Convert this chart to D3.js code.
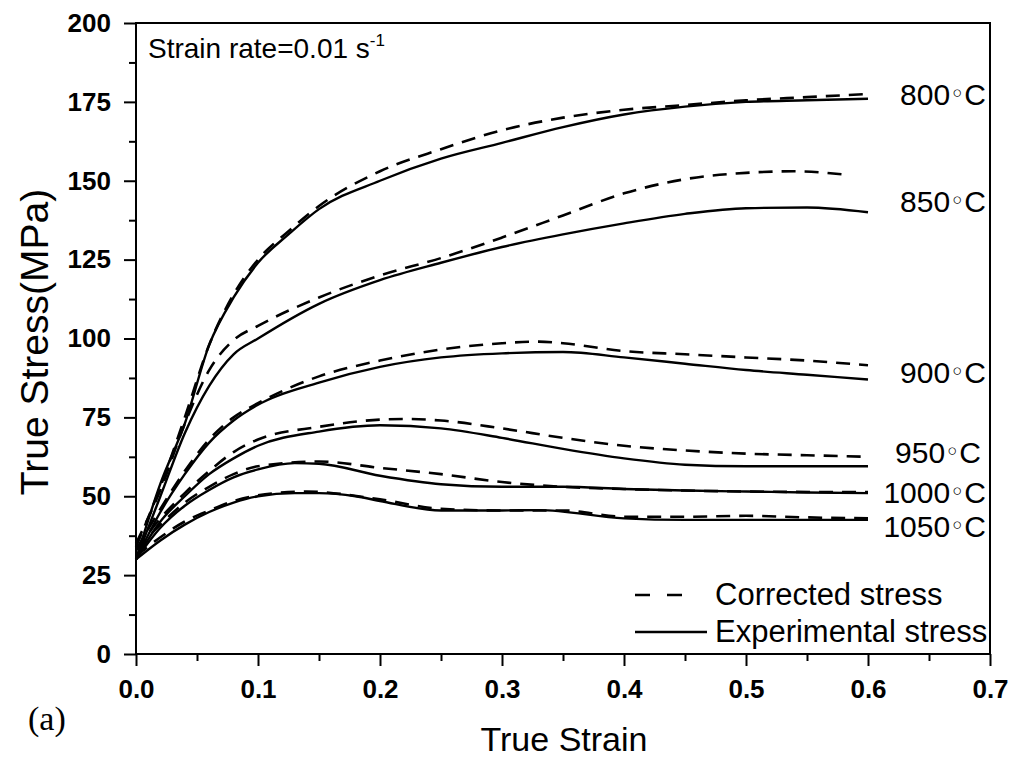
<!DOCTYPE html>
<html><head><meta charset="utf-8">
<script src="https://cdn.jsdelivr.net/npm/d3@7"></script>
<style>body{margin:0;background:#fff}svg{display:block}</style>
</head><body><svg id="c" width="1023" height="760"></svg>
<script>
// ---- data ----
const temps = ["800", "850", "900", "950", "1000", "1050"];
const expStrain = {
  "800":  [0,0.02,0.04,0.06,0.08,0.1,0.125,0.15,0.2,0.25,0.3,0.35,0.4,0.45,0.5,0.55,0.6],
  "850":  [0,0.02,0.04,0.06,0.08,0.1,0.15,0.2,0.25,0.3,0.35,0.4,0.45,0.5,0.55,0.6],
  "900":  [0,0.02,0.04,0.06,0.08,0.1,0.15,0.2,0.25,0.3,0.35,0.4,0.45,0.5,0.55,0.6],
  "950":  [0,0.02,0.04,0.06,0.08,0.1,0.15,0.2,0.25,0.3,0.35,0.4,0.45,0.5,0.55,0.6],
  "1000": [0,0.02,0.04,0.06,0.08,0.1,0.13,0.15,0.2,0.25,0.3,0.35,0.4,0.45,0.5,0.55,0.6],
  "1050": [0,0.02,0.04,0.06,0.08,0.1,0.13,0.15,0.18,0.2,0.25,0.3,0.33,0.4,0.45,0.5,0.6]
};
const expStress = {
  "800":  [30,54,73,98,113,124,133,141,150,157,162,167,171,173.5,175,175.5,176],
  "850":  [30,50,70,85,95,100,111,118.5,124,129,133,136.5,139.5,141.3,141.5,140],
  "900":  [30,45,57,67,74,79,86,91,94,95.3,95.7,94,92,90,88.5,87],
  "950":  [30,42,50,57,62,66,70.5,72.5,71.5,68.5,65,62,60,59.5,59.5,59.5],
  "1000": [30,40,47,52,56,58.5,60.5,60.3,56.5,53.8,53,53,52.3,51.8,51.5,51.2,51],
  "1050": [30,36,41,45,48,50,51,51,50,48.5,45.5,45.5,45.6,43,42.5,42.5,42.5]
};
const corStrain = {
  "800":  [0,0.02,0.04,0.06,0.08,0.1,0.125,0.15,0.2,0.25,0.3,0.35,0.4,0.45,0.5,0.55,0.6],
  "850":  [0,0.02,0.04,0.06,0.08,0.1,0.15,0.2,0.25,0.3,0.35,0.4,0.45,0.5,0.54,0.58],
  "900":  [0,0.02,0.04,0.06,0.08,0.1,0.15,0.2,0.25,0.3,0.33,0.35,0.4,0.45,0.5,0.55,0.6],
  "950":  [0,0.02,0.04,0.06,0.08,0.1,0.15,0.2,0.22,0.25,0.3,0.35,0.4,0.45,0.5,0.55,0.6],
  "1000": [0,0.02,0.04,0.06,0.08,0.1,0.15,0.2,0.25,0.3,0.35,0.4,0.45,0.5,0.6],
  "1050": [0,0.02,0.04,0.06,0.08,0.1,0.14,0.2,0.25,0.3,0.35,0.4,0.45,0.5,0.55,0.6]
};
const corStress = {
  "800":  [34,53,75,98,114,125,134,142,153,160,166,170,172.5,174,175.5,176.5,177.5],
  "850":  [35,52,73,90,99.5,104,113,120,125.5,132,139,146,150.5,152.5,153,152],
  "900":  [33,46,58,68,75,79.5,88,93,96.5,98.5,99,98.5,96,95,94,93,91.5],
  "950":  [33,43,51,58,64,68,72,74.3,74.5,74,71.5,68.5,66,64.5,63.5,63,62.5],
  "1000": [33,41,48,53,57,59.5,61,59,57,54.5,53,52.3,51.8,51.5,51.3],
  "1050": [31,37,42,45.5,48.5,50.3,51.5,49,46,45.5,45.5,43.5,43.5,43.8,43.3,43]
};
const xTicks = [0,0.1,0.2,0.3,0.4,0.5,0.6,0.7];
const yTicks = [0,25,50,75,100,125,150,175,200];
const labelY = {"800":174,"850":140,"900":86,"950":60.5,"1000":48,"1050":37};
const legendItems = ["Corrected stress", "Experimental stress"];

// ---- layout ----
const svg = d3.select("#c");
const x = d3.scaleLinear().domain([0,0.7]).range([136,990]);
const y = d3.scaleLinear().domain([0,200]).range([654,23]);
const font = "Arial, 'Liberation Sans', sans-serif";

// curves
const line = d3.line().x(d=>x(d[0])).y(d=>y(d[1])).curve(d3.curveMonotoneX);
temps.forEach(t=>{
  const e = expStrain[t].map((s,i)=>[s,expStress[t][i]]);
  const c = corStrain[t].map((s,i)=>[s,corStress[t][i]]);
  svg.append("path").attr("d",line(c)).attr("fill","none").attr("stroke","#000")
    .attr("stroke-width",2.6).attr("stroke-dasharray","14,9");
  svg.append("path").attr("d",line(e)).attr("fill","none").attr("stroke","#000")
    .attr("stroke-width",2.4);
});

// axes
const gx = svg.append("g").attr("transform","translate(0,654)")
  .call(d3.axisBottom(x).tickValues(xTicks).tickFormat(d3.format(".1f")).tickSize(12).tickPadding(14));
const gy = svg.append("g").attr("transform","translate(136,0)")
  .call(d3.axisLeft(y).tickValues(yTicks).tickFormat(d3.format("d")).tickSize(12).tickPadding(13));
// minor ticks
const gxm = svg.append("g").attr("transform","translate(0,654)")
  .call(d3.axisBottom(x).tickValues(d3.range(0.05,0.7,0.1)).tickFormat("").tickSize(7));
const gym = svg.append("g").attr("transform","translate(136,0)")
  .call(d3.axisLeft(y).tickValues(d3.range(12.5,200,25)).tickFormat("").tickSize(7));
[gx,gy,gxm,gym].forEach(g=>{
  g.select(".domain").remove();
  g.selectAll("line").attr("stroke","#000").attr("stroke-width",2);
  g.selectAll("text").attr("font-family",font).attr("font-size",26).attr("font-weight","bold").attr("fill","#000");
});
// frame
svg.append("rect").attr("x",136).attr("y",23).attr("width",854).attr("height",631)
  .attr("fill","none").attr("stroke","#000").attr("stroke-width",2);

// axis titles
svg.append("text").attr("x",564).attr("y",751).attr("text-anchor","middle")
  .attr("font-family",font).attr("font-size",34).text("True Strain");
svg.append("text").attr("transform","translate(48,342) rotate(-90)").attr("text-anchor","middle")
  .attr("font-family",font).attr("font-size",39).text("True Stress(MPa)");
svg.append("text").attr("x",28).attr("y",730).attr("font-family","'Liberation Serif', 'Times New Roman', serif")
  .attr("font-size",34).text("(a)");

// strain rate annotation
const sr = svg.append("text").attr("x",148).attr("y",58).attr("font-family",font).attr("font-size",28);
sr.append("tspan").text("Strain rate=0.01 s");
sr.append("tspan").attr("dy",-12).attr("font-size",17).text("-1");

// temperature labels
temps.forEach(t=>{
  const tx = svg.append("text").attr("x", t==="950"?981:986).attr("y",y(labelY[t]))
    .attr("text-anchor","end").attr("font-family",font).attr("font-size",30).attr("fill","#000");
  tx.append("tspan").text(t);
  tx.append("tspan").attr("font-family","'DejaVu Sans', sans-serif").attr("font-size",24).attr("dy",-3).text("\u25E6");
  tx.append("tspan").attr("dy",3).text("C");
});

// legend
const lg = svg.append("g");
lg.append("line").attr("x1",635).attr("x2",683).attr("y1",595).attr("y2",595)
  .attr("stroke","#000").attr("stroke-width",2.6).attr("stroke-dasharray","15,17");
lg.append("line").attr("x1",635).attr("x2",707).attr("y1",632).attr("y2",632)
  .attr("stroke","#000").attr("stroke-width",2.4);
legendItems.forEach((s,i)=>{
  lg.append("text").attr("x",715).attr("y",605+i*37).attr("font-family",font)
    .attr("font-size",31).text(s);
});
</script></body></html>
